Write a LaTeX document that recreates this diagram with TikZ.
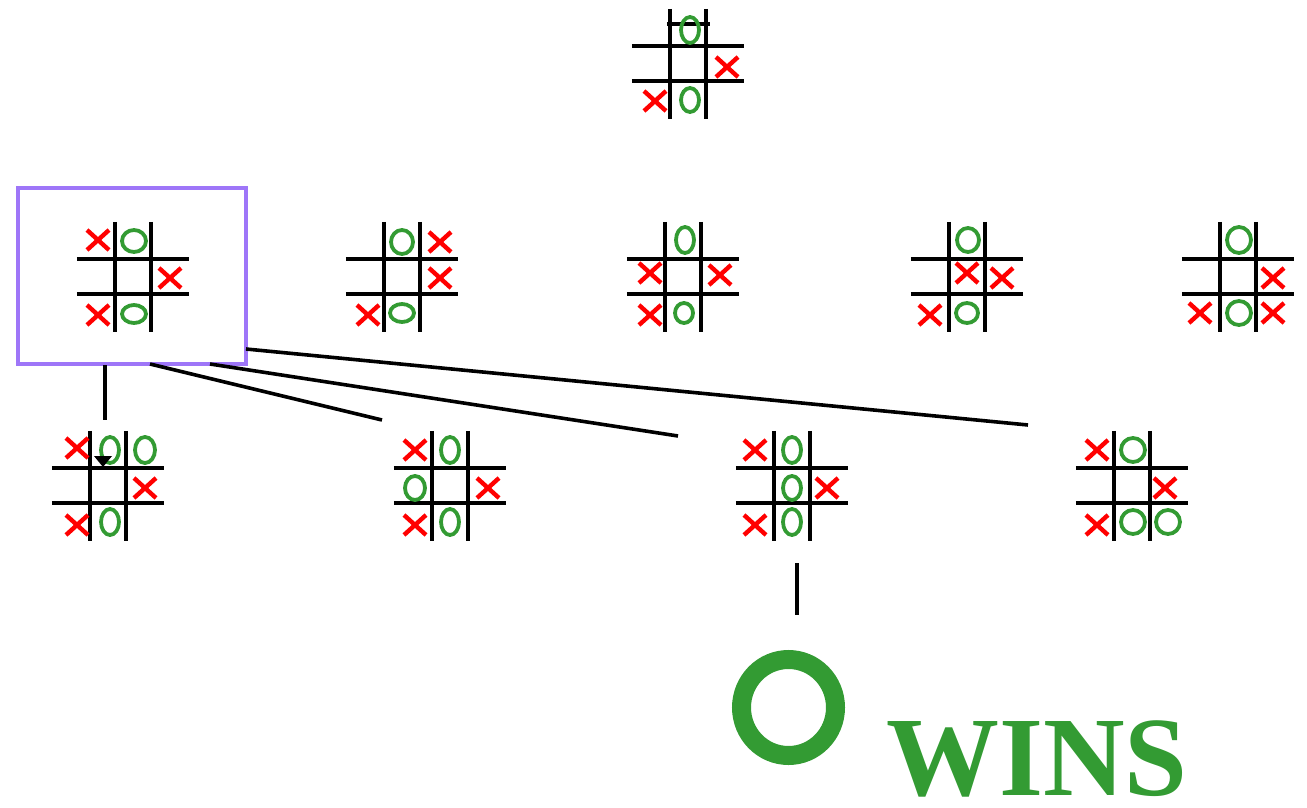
\documentclass[tikz,border=0pt]{standalone}
\usepackage{fontspec}
\setmainfont{Liberation Serif}
\definecolor{ogreen}{RGB}{51,155,51}
\definecolor{selpurple}{RGB}{158,118,248}
\tikzset{
  gridline/.style={black, line width=3.6pt, line cap=butt},
  conn/.style={black, line width=3.6pt},
  xm/.pic={\draw[red, line width=4.4pt] (-11,-10) -- (11,10) (-11,10) -- (11,-10);},
  om/.style 2 args={ogreen, line width=3.8pt, x radius=#1 pt, y radius=#2 pt},
}
\newcommand\board[3]{%
  \node[minimum width=112pt, minimum height=110pt, inner sep=0pt] (#1) at (#2,#3) {};
  \draw[gridline] ([xshift=-18pt]#1.north) -- ([xshift=-18pt]#1.south)
                  ([xshift=18pt]#1.north) -- ([xshift=18pt]#1.south)
                  ([yshift=18pt]#1.west) -- ([yshift=18pt]#1.east)
                  ([yshift=-17pt]#1.west) -- ([yshift=-17pt]#1.east);}
\newcommand\omark[4]{\draw[om={#3}{#4}] (#1,#2) ellipse [];}
\begin{document}
\begin{tikzpicture}[x=1pt,y=-1pt]
\useasboundingbox (0,0) rectangle (1307,808);

% top board
\board{b0}{688}{64}
\draw[gridline] (667,24) -- (710,24);
\omark{690}{30}{9}{13}
\pic at (727,67) {xm};
\pic at (655,101) {xm};
\omark{690}{100}{9}{12}

% selected box
\node[draw=selpurple, line width=3.6pt, minimum width=228pt, minimum height=176pt, inner sep=0pt] (sel) at (132,276) {};

% level 1
\board{b1}{133}{277}
\pic at (98,240) {xm};
\omark{134}{241}{12}{11}
\pic at (170,278) {xm};
\pic at (98,315) {xm};
\omark{134}{314}{12}{9}

\board{b2}{402}{277}
\omark{402}{242}{11}{12}
\pic at (440,242) {xm};
\pic at (440,278) {xm};
\pic at (368,315) {xm};
\omark{402}{313}{12}{9}

\board{b3}{683}{277}
\omark{685}{240}{9}{13}
\pic at (650,273) {xm};
\pic at (720,275) {xm};
\pic at (650,315) {xm};
\omark{684}{313}{9}{10}

\board{b4}{967}{277}
\omark{968}{240}{11}{12}
\pic at (967,273) {xm};
\pic at (1002,278) {xm};
\pic at (930,315) {xm};
\omark{967}{313}{11}{10}

\board{b5}{1238}{277}
\omark{1239}{240}{12}{13}
\pic at (1273,278) {xm};
\pic at (1200,313) {xm};
\omark{1239}{313}{12}{12}
\pic at (1273,313) {xm};

% level 2
\board{b6}{108}{486}
\pic at (77,448) {xm};
\omark{110}{450}{9}{13}
\omark{145}{450}{10}{13}
\pic at (145,488) {xm};
\pic at (77,525) {xm};
\omark{110}{522}{9}{13}

\board{b7}{450}{486}
\pic at (415,450) {xm};
\omark{450}{450}{9}{13}
\omark{415}{488}{10}{12}
\pic at (488,488) {xm};
\pic at (415,525) {xm};
\omark{450}{522}{9}{13}

\board{b8}{792}{486}
\pic at (755,450) {xm};
\omark{792}{450}{9}{13}
\omark{792}{488}{9}{12}
\pic at (827,488) {xm};
\pic at (755,525) {xm};
\omark{792}{522}{9}{13}

\board{b9}{1132}{486}
\pic at (1097,450) {xm};
\omark{1133}{450}{12}{12}
\pic at (1165,488) {xm};
\pic at (1097,525) {xm};
\omark{1133}{522}{12}{12}
\omark{1168}{522}{12}{12}

% connectors
\coordinate (s1) at (105,365);
\coordinate (e1) at (105,420);
\coordinate (s2) at (150,364);
\coordinate (e2) at (382,420);
\coordinate (s3) at (210,364);
\coordinate (e3) at (678,436);
\coordinate (s4) at (246,349);
\coordinate (e4) at (1028,425);
\draw[conn] (s1) -- (e1);
\draw[conn] (s2) -- (e2);
\draw[conn] (s3) -- (e3);
\draw[conn] (s4) -- (e4);
\coordinate (tip) at (103,467);
\fill[black] (94,456) -- (112,456) -- (tip) -- cycle;

\coordinate (s5) at (797,563);
\coordinate (e5) at (797,615);
\draw[conn] (s5) -- (e5);

% result
\node[inner sep=0pt] (bigO) at (788.5,707.5) {};
\draw[ogreen, line width=19pt] (bigO.center) ellipse [x radius=47pt, y radius=48pt];
\node[anchor=base west, text=ogreen, inner sep=0pt, text depth=0pt, font=\fontsize{113}{113}\selectfont\bfseries] (wins) at (886,795) {WINS};
\end{tikzpicture}
\end{document}
